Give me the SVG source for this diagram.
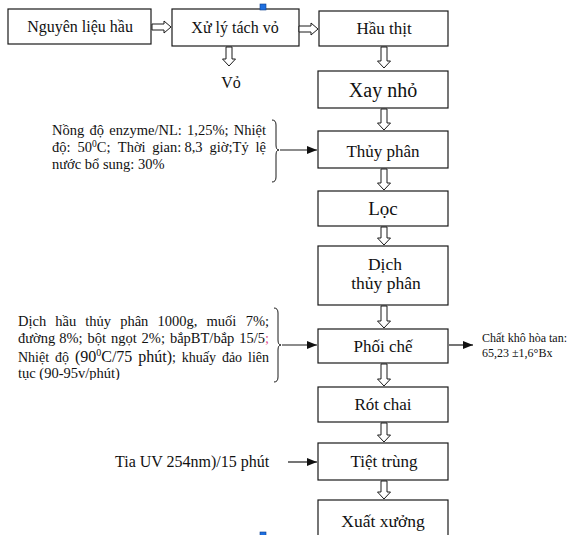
<svg xmlns="http://www.w3.org/2000/svg" width="570" height="535" viewBox="0 0 570 535">
<style>
.box{fill:#fff;stroke:#1a1a1a;stroke-width:1.2}
.lbl{font-family:"Liberation Serif","Times New Roman",serif;font-size:17px;fill:#111;text-anchor:middle}
.par{font-family:"Liberation Serif","Times New Roman",serif;font-size:14.5px;fill:#111}
.e{text-anchor:end}
.ha{fill:#fff;stroke:#1a1a1a;stroke-width:1}
.ln{stroke:#1a1a1a;stroke-width:1.2;fill:none}
.brace{stroke:#1a1a1a;stroke-width:1;fill:none}
.handle{fill:#1e6fe0;stroke:#0d3d8a;stroke-width:0.6}
</style>
<defs>
<marker id="ah" markerWidth="10" markerHeight="8" refX="10" refY="4" orient="auto" markerUnits="userSpaceOnUse">
<path d="M0,0 L10,4 L0,8 Z" fill="#111"/>
</marker>
<clipPath id="clipP"><rect x="0" y="300" width="280" height="80"/></clipPath>
</defs>

<g id="n-nguyen-lieu">
<rect class="box" x="8" y="9" width="143" height="35"/>
<text class="lbl" x="80" y="32" style="font-size:16px">Nguyên liệu hầu</text>
</g>
<g id="n-xu-ly">
<rect class="box" x="172" y="9" width="127" height="37"/>
<text class="lbl" x="235" y="33" style="font-size:16px">Xử lý tách vỏ</text>
</g>
<g id="n-vo">
<text class="lbl" x="231" y="88" style="font-size:16px">Vỏ</text>
</g>
<g id="n-hau-thit">
<rect class="box" x="319" y="11" width="129" height="35"/>
<text class="lbl" x="384" y="34">Hầu thịt</text>
</g>
<g id="n-xay-nho">
<rect class="box" x="318" y="71" width="130" height="37"/>
<text class="lbl" x="383" y="97" style="font-size:20px">Xay nhỏ</text>
</g>
<g id="n-thuy-phan">
<rect class="box" x="318" y="131" width="130" height="37"/>
<text class="lbl" x="383" y="157">Thủy phân</text>
</g>
<g id="n-loc">
<rect class="box" x="318" y="191" width="130" height="35"/>
<text class="lbl" x="383" y="215" style="font-size:19px">Lọc</text>
</g>
<g id="n-dich-thuy-phan">
<rect class="box" x="318" y="246" width="130" height="59"/>
<text class="lbl" x="385" y="270" style="font-size:17.5px">Dịch</text>
<text class="lbl" x="386" y="289" style="font-size:17.5px">thủy phân</text>
</g>
<g id="n-phoi-che">
<rect class="box" x="318" y="329" width="130" height="34"/>
<text class="lbl" x="383" y="352">Phối chế</text>
</g>
<g id="n-rot-chai">
<rect class="box" x="318" y="387" width="130" height="35"/>
<text class="lbl" x="383" y="410">Rót chai</text>
</g>
<g id="n-tiet-trung">
<rect class="box" x="318" y="443" width="130" height="37"/>
<text class="lbl" x="384" y="467">Tiệt trùng</text>
</g>
<g id="n-xuat-xuong">
<rect class="box" x="318" y="500" width="130" height="40"/>
<text class="lbl" x="383" y="527" style="font-size:17.5px">Xuất xưởng</text>
</g>

<g id="n-note-thuy-phan">
<text class="par" y="135"><tspan x="52">Nồng</tspan><tspan x="89.5">độ</tspan><tspan x="109.3">enzyme/NL:</tspan><tspan x="187.1">1,25%;</tspan></text>
<text class="par e" x="266" y="135">Nhiệt</text>
<text class="par" y="152"><tspan x="52">độ:</tspan><tspan x="77.6">50</tspan><tspan font-size="9.5" dy="-5">0</tspan><tspan dy="5">C;</tspan><tspan x="117.8">Thời</tspan><tspan x="152.3">gian:</tspan><tspan x="184.4">8,3</tspan><tspan x="209.6">giờ;Tỷ</tspan></text>
<text class="par e" x="266" y="152">lệ</text>
<text class="par" x="52" y="169">nước bổ sung: 30%</text>
</g>

<g id="n-note-phoi-che" clip-path="url(#clipP)">
<text class="par" y="326"><tspan x="18">Dịch</tspan><tspan x="55.3">hầu</tspan><tspan x="85.3">thủy</tspan><tspan x="120.2">phân</tspan><tspan x="157.5">1000g,</tspan><tspan x="206.5">muối</tspan></text>
<text class="par e" x="269" y="326">7%;</text>
<text class="par" y="343"><tspan x="18">đường</tspan><tspan x="59.2">8%;</tspan><tspan x="87.5">bột</tspan><tspan x="110.9">ngọt</tspan><tspan x="141.6">2%;</tspan><tspan x="169.9">bắpBT/bắp</tspan></text>
<text class="par e" x="269" y="343">15/5<tspan fill="#e0508a">;</tspan></text>
<text class="par" y="362" style="font-size:14px"><tspan x="18">Nhiệt</tspan><tspan x="55">độ</tspan><tspan x="74.9" font-size="16">(90</tspan><tspan font-size="10" dy="-6">0</tspan><tspan font-size="16" dy="6">C/75</tspan><tspan x="138.2" font-size="16">phút)</tspan><tspan>;</tspan><tspan x="181.8">khuấy</tspan><tspan x="221.9">đảo</tspan></text>
<text class="par e" x="269" y="362" style="font-size:14px">liên</text>
<text class="par" x="18" y="378">tục (90-95v/phút)</text>
</g>

<g id="n-note-brix">
<text class="par" x="482" y="342" style="font-size:12px">Chất khô hòa tan:</text>
<text class="par" x="482" y="357" style="font-size:12px">65,23 ±1,6°Bx</text>
</g>

<g id="n-note-uv">
<text class="par" x="115" y="467" style="font-size:16px">Tia UV 254nm)/15 phút</text>
</g>

<g id="connectors">
<path class="ha" d="M152,24 H164 V21 L171,27 L164,33 V30 H152 Z"/>
<path class="ha" d="M299,26 H311 V23 L318,29 L311,35 V32 H299 Z"/>
<path class="ha" d="M226,47 V59 H222.5 L229,66 L235.5,59 H232 V47 Z"/>
<path class="ha" d="M381,47 V61 H377.5 L384,68 L390.5,61 H387 V47 Z"/>
<path class="ha" d="M381,109 V123 H377.5 L384,130 L390.5,123 H387 V109 Z"/>
<path class="ha" d="M381,169 V183 H377.5 L384,190 L390.5,183 H387 V169 Z"/>
<path class="ha" d="M381,227 V238 H377.5 L384,245 L390.5,238 H387 V227 Z"/>
<path class="ha" d="M381,306 V321 H377.5 L384,328 L390.5,321 H387 V306 Z"/>
<path class="ha" d="M381,364 V379 H377.5 L384,386 L390.5,379 H387 V364 Z"/>
<path class="ha" d="M381,423 V435 H377.5 L384,442 L390.5,435 H387 V423 Z"/>
<path class="ha" d="M381,481 V492 H377.5 L384,499 L390.5,492 H387 V481 Z"/>

<path class="brace" d="M272,120 Q276,120 276,125 V145 Q276,150 279,150 Q276,150 276,155 V177 Q276,182 272,182"/>
<line class="ln" x1="280" y1="150" x2="317" y2="150" marker-end="url(#ah)"/>

<path class="brace" d="M274,308 Q278,308 278,313 V340 Q278,345 281,345 Q278,345 278,350 V377 Q278,382 274,382"/>
<line class="ln" x1="282" y1="345" x2="317" y2="345" marker-end="url(#ah)"/>

<line class="ln" x1="449" y1="345" x2="473" y2="345" marker-end="url(#ah)"/>

<line class="ln" x1="288" y1="462" x2="317" y2="462" marker-end="url(#ah)"/>
</g>

<rect class="handle" x="260" y="4" width="6" height="6"/>
<rect class="handle" x="260" y="532" width="6" height="6"/>
</svg>
